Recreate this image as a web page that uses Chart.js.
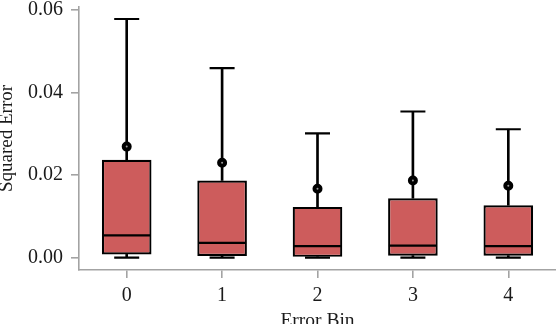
<!DOCTYPE html>
<html>
<head>
<meta charset="utf-8">
<script src="https://cdn.jsdelivr.net/npm/chart.js@4.4.1/dist/chart.umd.min.js"></script>
<style>
  html, body { margin: 0; padding: 0; background: #ffffff; }
  #wrap { width: 556px; height: 324px; position: relative; overflow: hidden; }
</style>
</head>
<body>
<div id="wrap"><canvas id="c" width="556" height="324"></canvas></div>
<script>
// ---- data ----
const categories   = ['0', '1', '2', '3', '4'];
const whiskerLow   = [0.0000, 0.0000, 0.0000, 0.0000, 0.0000];
const q1           = [0.0008, 0.0004, 0.0002, 0.0005, 0.0005];
const median       = [0.0054, 0.0036, 0.0028, 0.0029, 0.0028];
const q3           = [0.0237, 0.0187, 0.0123, 0.0144, 0.0127];
const whiskerHigh  = [0.0578, 0.0459, 0.0301, 0.0354, 0.0311];
const mean         = [0.0269, 0.0230, 0.0167, 0.0187, 0.0174];
const yTickValues  = [0.00, 0.02, 0.04, 0.06];
const xTitle = 'Error Bin';
const yTitle = 'Squared Error';

// ---- styling ----
const FONT = "'Liberation Serif', 'Times New Roman', serif";
const AXIS_GRAY = '#a3a3a3';
const BOX_FILL = '#cd5c5c';

const boxData = categories.map((_, i) => [q1[i], q3[i]]);
const upperWhisker = categories.map((_, i) => [q3[i], whiskerHigh[i]]);
const lowerWhisker = categories.map((_, i) => [whiskerLow[i], q1[i]]);

const ctx = document.getElementById('c').getContext('2d');
new Chart(ctx, {
  type: 'bar',
  data: {
    labels: categories,
    datasets: [
      { type: 'bar', data: upperWhisker, backgroundColor: '#000', borderWidth: 0,
        barThickness: 2, grouped: false, order: 5 },
      { type: 'bar', data: lowerWhisker, backgroundColor: '#000', borderWidth: 0,
        barThickness: 2, grouped: false, order: 5 },
      { type: 'bar', data: boxData, backgroundColor: BOX_FILL, borderColor: '#000',
        borderWidth: 2.2, borderSkipped: false, barPercentage: 0.52, categoryPercentage: 1,
        grouped: false, order: 4 },
      { type: 'line', data: median, showLine: false, pointStyle: 'line', pointRadius: 24,
        pointBorderWidth: 2.2, pointBorderColor: '#000', borderColor: '#000', order: 3 },
      { type: 'line', data: whiskerHigh, showLine: false, pointStyle: 'line', pointRadius: 12.5,
        pointBorderWidth: 2.2, pointBorderColor: '#000', borderColor: '#000', order: 2 },
      { type: 'line', data: whiskerLow, showLine: false, pointStyle: 'line', pointRadius: 12.5,
        pointBorderWidth: 2.2, pointBorderColor: '#000', borderColor: '#000', order: 2 },
      { type: 'line', data: mean, showLine: false, pointStyle: 'circle', pointRadius: 3,
        pointBorderWidth: 4, pointBorderColor: '#000', pointBackgroundColor: '#9a9a9a', order: 1 }
    ]
  },
  options: {
    responsive: false,
    animation: false,
    events: [],
    layout: { autoPadding: false, padding: { left: 0, right: 0, top: 7, bottom: 0 } },
    plugins: { legend: { display: false }, tooltip: { enabled: false } },
    scales: {
      x: {
        type: 'category',
        offset: true,
        grid: { display: true, drawOnChartArea: false, drawTicks: true, tickLength: 8,
                color: AXIS_GRAY, lineWidth: 1.6, offset: false },
        border: { display: true, color: AXIS_GRAY, width: 1.6 },
        ticks: { color: '#1a1a1a', padding: 6, font: { family: FONT, size: 20 } },
        title: { display: true, text: xTitle, color: '#1a1a1a',
                 font: { family: FONT, size: 19.5 }, padding: { top: 0, bottom: -8.5 } },
        afterFit(scale) { scale.height = 54; scale.paddingLeft = 0; scale.paddingRight = 0; }
      },
      y: {
        type: 'linear',
        min: -0.00298,
        max: 0.0607,
        grid: { display: true, drawOnChartArea: false, drawTicks: true, tickLength: 8,
                color: AXIS_GRAY, lineWidth: 1.6 },
        border: { display: true, color: AXIS_GRAY, width: 1.6 },
        ticks: { color: '#1a1a1a', padding: 8, font: { family: FONT, size: 20 },
                 callback: (v) => Number(v).toFixed(2) },
        afterBuildTicks(scale) { scale.ticks = yTickValues.map(v => ({ value: v })); },
        title: { display: true, text: yTitle, color: '#1a1a1a',
                 font: { family: FONT, size: 19 }, padding: { top: -4, bottom: 0 } },
        afterFit(scale) { scale.width = 79; scale.paddingTop = 0; scale.paddingBottom = 0; }
      }
    }
  }
});
</script>
</body>
</html>
